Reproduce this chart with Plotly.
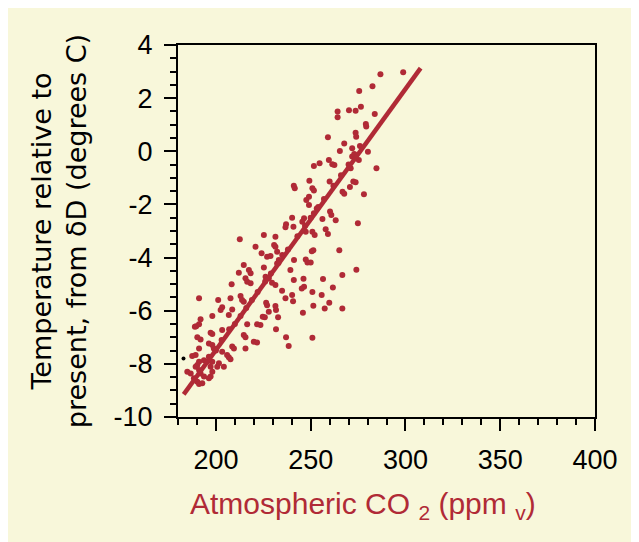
import plotly.graph_objects as go

# --- data ---
co2 = [
    286.8, 298.8, 275.6, 282.6, 264.2, 264.2, 270.2, 273.7, 276.5, 283.8, 279.1, 279.3, 259.1, 273.7, 274.0,
    267.7, 265.4, 271.9, 280.2, 271.9, 273.7, 275.4, 259.6, 251.7, 254.7, 261.4, 262.5, 271.1, 284.7, 249.3,
    250.9, 251.7, 260.0, 272.5, 273.7, 270.7, 266.8, 267.7, 278.1, 247.7, 260.2, 260.9, 263.2, 256.2, 253.2,
    251.7, 246.5, 245.6, 274.9, 257.9, 241.1, 241.6, 240.2, 237.0, 236.7, 240.9, 249.1, 249.1, 250.9, 247.4,
    252.1, 259.1,
    251.4, 250.6, 265.1, 247.4, 248.3, 250.0, 274.1, 266.7, 246.2, 256.5, 246.5, 245.3, 261.7, 250.9, 255.8,
    259.8, 251.4, 257.4, 266.7, 245.9, 250.9,
    212.6, 225.3, 231.4, 220.9, 224.1, 227.0, 228.8, 231.4, 232.3, 233.2, 232.3, 214.7, 212.1, 217.4, 218.3,
    225.3, 239.3, 215.6, 216.5, 218.3, 208.3, 226.2, 227.9, 229.6, 231.4, 234.9, 241.1, 240.2, 236.7, 240.7,
    191.1, 201.2, 207.7, 213.0, 213.8, 214.7, 203.3, 202.5, 208.6, 226.5, 227.0, 231.4, 231.7, 227.9, 224.7,
    225.8, 232.8, 206.8, 198.1, 191.9, 191.1, 189.6, 188.9, 216.5, 221.7, 223.5, 203.3, 197.2, 198.1, 214.7,
    215.6, 231.7, 190.2, 191.9, 220.0, 237.0, 208.6, 209.5, 191.1, 215.6, 196.3, 198.1, 198.9, 238.4, 221.7,
    205.9, 206.8, 207.7, 203.3, 187.5, 189.3, 193.7, 195.4, 196.3, 198.1, 197.2, 191.1, 190.2, 189.3, 201.6,
    200.7, 204.2, 184.9, 186.7, 191.1, 191.9, 193.7, 197.2, 198.1, 188.4, 190.2, 191.1, 196.3, 192.8, 241.2,
    230.7,
    200.0, 203.0, 207.0, 210.0, 213.0, 216.0, 219.0, 222.0, 226.0, 229.0, 233.0, 235.0, 238.0, 243.0, 247.0,
    250.0, 254.0, 257.0, 262.0, 266.0, 270.0, 273.0, 276.0,
]
temp = [
    2.90, 2.97, 2.27, 2.45, 1.50, 1.28, 1.54, 1.53, 1.68, 1.40, 1.03, 0.93, 0.53, 0.70, 0.55,
    0.29, 0.01, 0.11, -0.02, -0.20, -0.26, -0.33, -0.33, -0.55, -0.45, -0.49, -0.52, -0.64, -0.64, -1.11,
    -1.39, -1.48, -1.14, -1.14, -1.17, -1.34, -1.52, -1.60, -1.62, -1.83, -2.27, -2.40, -2.60, -2.55, -2.15,
    -2.33, -2.52, -2.65, -2.71, -2.93, -1.30, -1.39, -2.50, -2.75, -2.86, -2.84, -2.02, -1.71, -3.03, -3.03,
    -3.15, -3.11,
    -3.72, -3.76, -3.72, -4.07, -4.19, -4.19, -4.46, -4.66, -4.80, -4.81, -5.10, -5.16, -5.13, -5.30, -5.41,
    -5.70, -5.81, -5.92, -5.92, -6.08, -7.02,
    -3.31, -3.15, -3.22, -3.59, -3.84, -3.97, -3.94, -3.59, -3.78, -4.09, -4.22, -4.28, -4.57, -4.47, -4.59,
    -4.37, -4.47, -4.78, -4.91, -4.97, -5.00, -4.72, -4.78, -4.95, -5.03, -5.25, -4.84, -5.41, -5.53, -5.64,
    -5.53, -5.60, -5.53, -5.45, -5.60, -5.66, -5.87, -5.97, -5.95, -5.70, -5.79, -5.82, -5.97, -6.04, -6.23,
    -6.25, -6.25, -6.16, -6.20, -6.32, -6.51, -6.58, -6.60, -6.51, -6.51, -6.54, -6.73, -6.83, -6.88, -6.91,
    -7.00, -6.70, -7.00, -7.08, -7.17, -7.00, -7.35, -7.42, -7.42, -7.42, -7.23, -7.29, -7.42, -7.33, -7.20,
    -7.67, -7.75, -7.83, -7.54, -7.70, -7.67, -7.86, -7.92, -7.73, -7.92, -8.11, -7.92, -8.04, -8.11, -7.98,
    -8.11, -8.11, -8.30, -8.36, -8.23, -8.36, -8.48, -8.48, -8.30, -8.54, -8.67, -8.76, -8.54, -8.73, -4.09,
    -3.53,
    -7.50, -7.10, -6.70, -6.50, -6.20, -5.90, -5.60, -5.30, -4.90, -4.60, -4.20, -3.90, -3.70, -3.20, -2.80,
    -2.50, -2.10, -1.80, -1.30, -0.90, -0.50, -0.10, 0.20,
]
fit_co2 = [183.0, 308.0]
fit_temp = [-9.15, 3.13]
stray_co2 = [182.9]
stray_temp = [-7.8]

x_tick_vals = [200, 250, 300, 350, 400]
x_tick_text = ["200", "250", "300", "350", "400"]
y_tick_vals = [4, 2, 0, -2, -4, -6, -8, -10]
y_tick_text = ["4", "2", "0", "-2", "-4", "-6", "-8", "-10"]

RED = "#B02A36"
BG = "#F8F7DA"
FONT = "Liberation Sans, Arial, sans-serif"
TITLE_FONT = "DejaVu Sans, Liberation Sans, sans-serif"

fig = go.Figure()
fig.add_trace(go.Scatter(x=co2, y=temp, mode="markers",
                         marker=dict(color=RED, size=6, line=dict(width=0)),
                         showlegend=False, hoverinfo="skip"))
fig.add_trace(go.Scatter(x=stray_co2, y=stray_temp, mode="markers",
                         marker=dict(color="black", size=4, line=dict(width=0)),
                         showlegend=False, hoverinfo="skip"))
fig.add_trace(go.Scatter(x=fit_co2, y=fit_temp, mode="lines",
                         line=dict(color=RED, width=4.5),
                         showlegend=False, hoverinfo="skip"))

fig.add_annotation(
    text="Atmospheric CO <sub>2</sub> (ppm <sub>v</sub>)",
    xref="paper", yref="paper", x=0.444, y=-0.237,
    xanchor="center", yanchor="middle", showarrow=False,
    font=dict(size=30, family=FONT, color=RED),
)

fig.update_layout(
    width=639, height=542,
    paper_bgcolor=BG, plot_bgcolor=BG,
    margin=dict(l=170, r=52, t=37, b=133),
    font=dict(family=FONT, color="black"),
    xaxis=dict(
        range=[180, 400], tickvals=x_tick_vals, ticktext=x_tick_text,
        showgrid=False, zeroline=False,
        showline=True, linecolor="black", linewidth=2, mirror=True,
        ticks="outside", ticklen=12, tickwidth=1.5, tickcolor="black",
        ticklabelstandoff=6,
        minor=dict(tickvals=list(range(180, 401, 10)), ticks="outside", ticklen=6,
                   tickwidth=1.5, tickcolor="black", showgrid=False),
        tickfont=dict(size=27, family=FONT, color="black"),
    ),
    yaxis=dict(
        range=[-10, 4], tickvals=y_tick_vals, ticktext=y_tick_text,
        showgrid=False, zeroline=False,
        showline=True, linecolor="black", linewidth=2, mirror=True,
        ticks="outside", ticklen=12, tickwidth=1.5, tickcolor="black",
        ticklabelstandoff=6,
        minor=dict(dtick=0.5, ticks="outside", ticklen=6,
                   tickwidth=1.5, tickcolor="black", showgrid=False),
        tickfont=dict(size=27, family=FONT, color="black"),
        title=dict(text="Temperature relative to<br>present, from δD (degrees C)",
                   font=dict(size=27, family=TITLE_FONT, color="black"), standoff=19),
    ),
)

fig.write_html("out.html")
